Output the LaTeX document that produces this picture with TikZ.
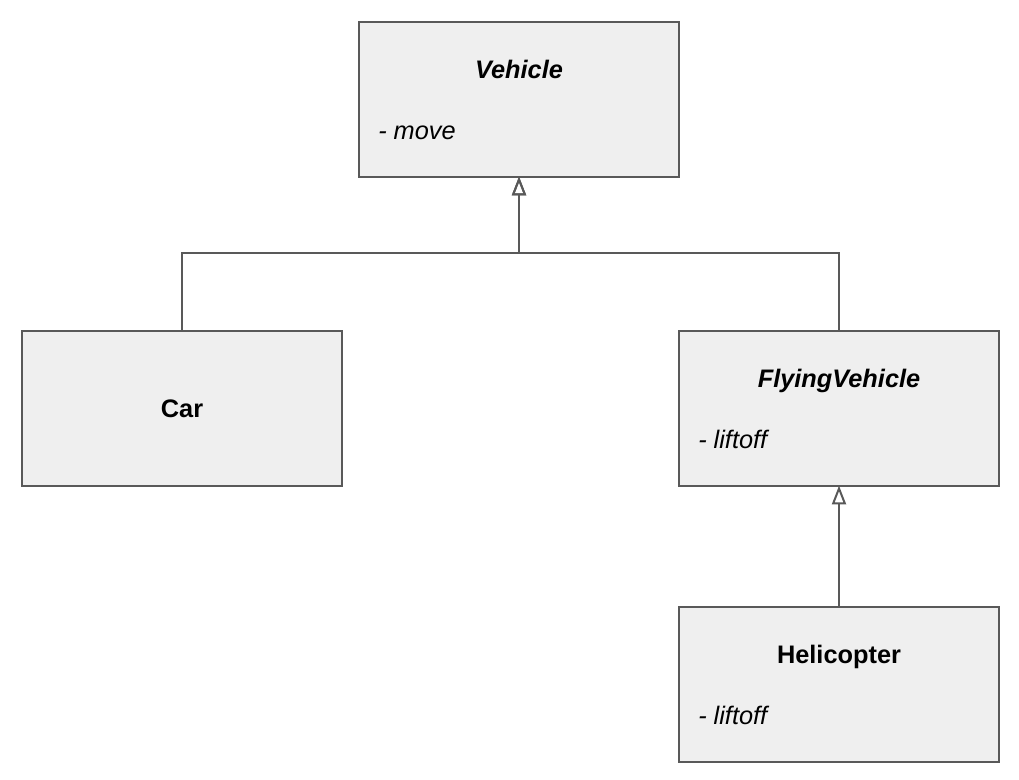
\documentclass[tikz,border=0pt]{standalone}
\usepackage{fontspec}
\setmainfont{Liberation Sans}
\usetikzlibrary{arrows.meta}
\definecolor{boxfill}{HTML}{EFEFEF}
\definecolor{edge}{HTML}{595959}
\begin{document}
\begin{tikzpicture}[x=0.75pt,y=-0.75pt,
  umlbox/.style={draw=edge,fill=boxfill,line width=1.5pt,minimum width=240pt,minimum height=116pt,inner sep=0pt,outer sep=0pt,anchor=north west},
  title/.style={font=\fontsize{19}{22}\selectfont\bfseries,anchor=base,inner sep=0pt},
  attr/.style={font=\fontsize{19}{22}\selectfont\itshape,anchor=base west,inner sep=0pt},
  inh/.style={draw=edge,line width=1.5pt,-{Triangle[open,length=14pt,width=10.5pt,line width=1.5pt]}}]
\useasboundingbox (0,0) rectangle (1019,779);
\node[umlbox] (veh) at (359,22) {};
\node[umlbox] (car) at (22,331) {};
\node[umlbox] (fly) at (679,331) {};
\node[umlbox] (heli) at (679,607) {};
\node[title] (vehT) at (519,78) {\itshape Vehicle};
\node[attr] (vehA) at (378,139) {- move};
\node[title] (carT) at (182,417) {Car};
\node[title] (flyT) at (839,387) {\itshape FlyingVehicle};
\node[attr] (flyA) at (698,448) {- liftoff};
\node[title] (heliT) at (839,663) {Helicopter};
\node[attr] (heliA) at (698,724) {- liftoff};
\coordinate (j) at (519,253);
\draw[inh] (car.north) |- (j) -- (veh.south);
\draw[inh] (fly.north) |- (j) -- (veh.south);
\draw[inh] (heli.north) -- (fly.south);
\end{tikzpicture}
\end{document}
